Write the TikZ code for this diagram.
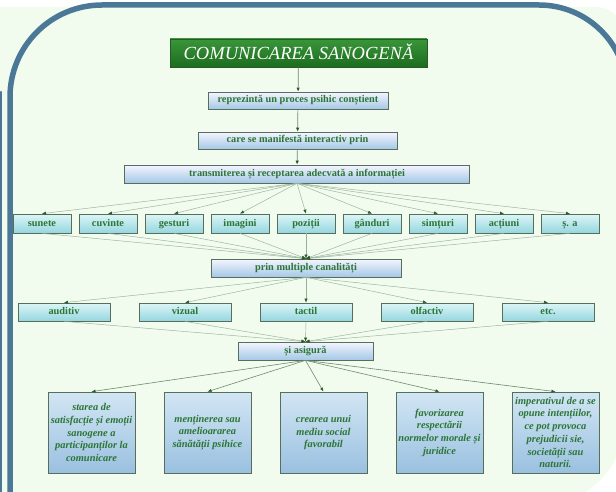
\documentclass[tikz,border=0pt]{standalone}
\usepackage{fontspec}
\setmainfont{Liberation Serif}
\usetikzlibrary{arrows.meta,shadows}
\definecolor{bgc}{HTML}{F1FBEE}
\definecolor{framec}{HTML}{4A7896}
\definecolor{txtg}{HTML}{2C7535}
\definecolor{edgec}{HTML}{566E5A}
\definecolor{linec}{HTML}{98B098}
\definecolor{vlinec}{HTML}{6E8C6E}
\definecolor{tipc}{HTML}{2C5A2C}
\tikzset{
  basebox/.style={draw=edgec, line width=0.7pt, inner sep=0pt, align=center, text=txtg,
    font=\fontsize{10.3}{12}\selectfont\bfseries,
    drop shadow={opacity=0.22, shadow xshift=0.8pt, shadow yshift=-0.9pt}},
  linebox/.style={text height=7pt, text depth=2pt},
  bluebox/.style={basebox, linebox, top color=blue!4!white, bottom color={rgb,255:red,164;green,200;blue,230}},
  cyanbox/.style={basebox, linebox, top color={rgb,255:red,220;green,246;blue,246}, bottom color={rgb,255:red,150;green,214;blue,224}},
  notebox/.style={basebox, top color={rgb,255:red,210;green,230;blue,244}, bottom color={rgb,255:red,154;green,192;blue,224},
    font=\fontsize{10.4}{12.7}\selectfont\bfseries\itshape},
  titlebox/.style={draw={rgb,255:red,40;green,90;blue,40}, line width=0.7pt, inner sep=0pt,
    top color={rgb,255:red,58;green,150;blue,58}, bottom color={rgb,255:red,28;green,108;blue,30},
    text=white, font=\fontsize{18.5}{20}\selectfont\itshape, text height=12.5pt, text depth=0pt,
    drop shadow={opacity=0.25, shadow xshift=1pt, shadow yshift=-1pt}},
  conn/.style={draw=linec, line width=0.45pt, -{Latex[length=4pt,width=3.2pt,color=tipc]}},
  vconn/.style={draw=vlinec, line width=0.7pt, -{Latex[length=4pt,width=3.4pt,color=tipc]}},
}
\begin{document}
\begin{tikzpicture}[x=1pt,y=-1pt]
\useasboundingbox (0,0) rectangle (616,492);
\fill[white] (0,0) rectangle (616,492);
\fill[bgc] (-5,7) -- (595,7) .. controls (611.6,7) and (625,20.4) .. (625,37)
  -- (625,420) .. controls (625,466.9) and (586.9,505) .. (540,505) -- (-5,505) -- cycle;
\draw[framec, line width=2.4pt, line cap=round] (1.2,92) -- (1.2,500);
\draw[framec, line width=5.5pt] (10,520) -- (10,97) .. controls (10,46.2) and (51.2,5) .. (102,5)
  -- (539,5) .. controls (587.6,5) and (627,44.4) .. (627,93) -- (627,520);

\node[titlebox, minimum width=257pt, minimum height=28pt] (title) at (298.5,53) {COMUNICAREA SANOGENĂ};
\node[bluebox, minimum width=180pt, minimum height=17pt] (rep) at (298,100.5) {reprezintă un proces psihic conștient};
\node[bluebox, minimum width=199pt, minimum height=17pt] (care) at (297.5,140.5) {care se manifestă interactiv prin};
\node[bluebox, minimum width=345pt, minimum height=18pt] (trans) at (297,174) {transmiterea și receptarea adecvată a informației};

\foreach \n/\t [count=\k from 0] in {s1/sunete, s2/cuvinte, s3/gesturi, s4/imagini, s5/poziții, s6/gânduri, s7/simțuri, s8/acțiuni, s9/{ș. a}}
  \node[cyanbox, minimum width=58pt, minimum height=19pt] (\n) at (42+66*\k,223.5) {\t};

\node[bluebox, minimum width=190pt, minimum height=18pt] (prin) at (306,268) {prin multiple canalități};

\foreach \n/\t [count=\k from 0] in {c1/auditiv, c2/vizual, c3/tactil, c4/olfactiv, c5/etc.}
  \node[cyanbox, minimum width=92pt, minimum height=18pt] (\n) at (64+121*\k,312) {\t};

\node[bluebox, minimum width=135pt, minimum height=18pt] (si) at (305.5,351) {și asigură};

\node[notebox, minimum width=87pt, minimum height=81pt] (b1) at (91.5,432.5) {starea de\\satisfacție și emoții\\sanogene a\\participanților la\\comunicare};
\node[notebox, minimum width=87pt, minimum height=81pt] (b2) at (207.5,432.5) {menținerea sau\\amelioararea\\sănătății psihice};
\node[notebox, minimum width=87pt, minimum height=81pt] (b3) at (323.5,432.5) {crearea unui\\mediu social\\favorabil};
\node[notebox, minimum width=87pt, minimum height=81pt] (b4) at (439.5,432.5) {favorizarea\\respectării\\normelor morale și\\juridice};
\node[notebox, minimum width=87pt, minimum height=81pt] (b5) at (555.5,432.5) {imperativul de a se\\opune intențiilor,\\ce pot provoca\\prejudicii sie,\\societății sau\\naturii.};

\draw[vconn] (title) -- (rep);
\draw[vconn] (rep) -- (care);
\draw[vconn] (care) -- (trans);
\foreach \n in {s1,s2,s3,s4,s5,s6,s7,s8,s9} {
  \draw[conn] (trans.south) -- (\n.north);
  \draw[conn] (\n.south) -- (prin.north);
}
\foreach \n in {c1,c2,c3,c4,c5} {
  \draw[conn] (prin.south) -- (\n.north);
  \draw[conn] (\n.south) -- (si.north);
}
\foreach \n in {b1,b2,b3,b4,b5}
  \draw[conn, draw=vlinec, line width=0.6pt] (si.south) -- (\n.north);
\end{tikzpicture}
\end{document}
